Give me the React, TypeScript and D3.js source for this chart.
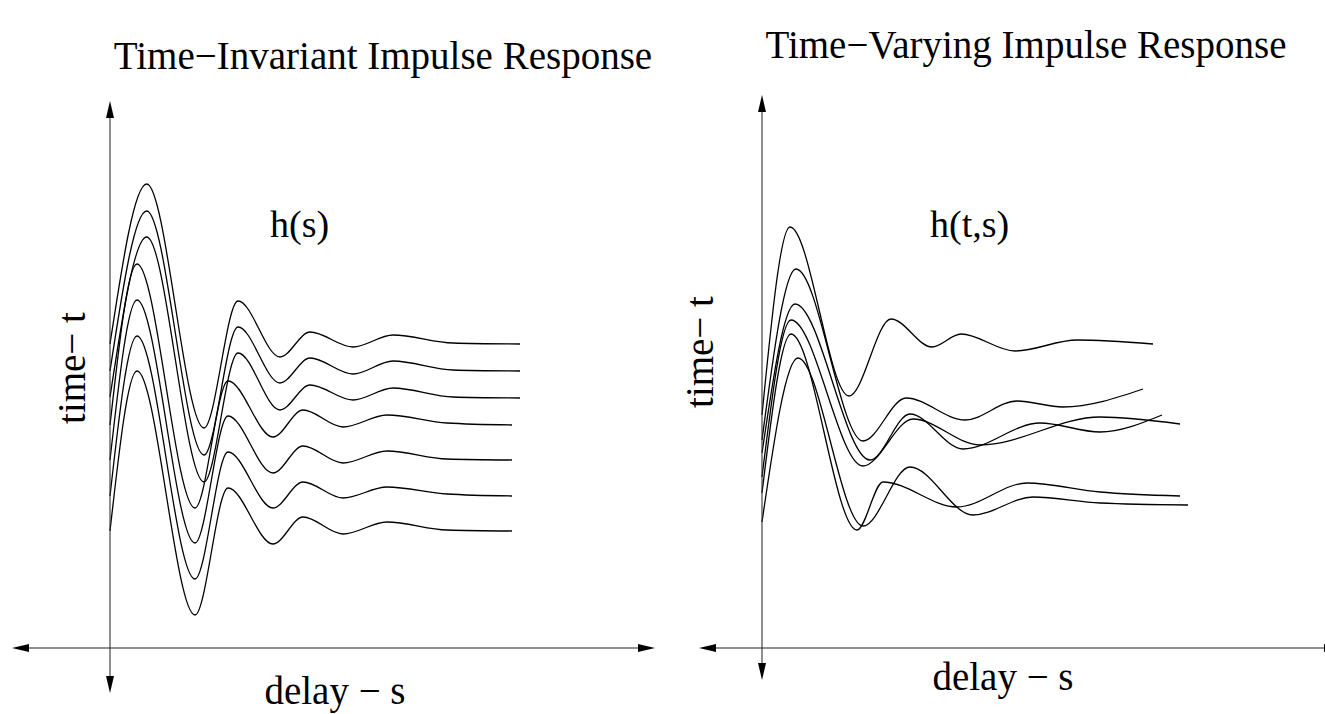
import React from "react";
import * as d3 from "d3";

// ---------- data (delay s in units, time t in units) ----------
// Left panel: time-invariant responses (same shape, shifted in t)
const sInvA = [0, 3.67, 9.4, 12.8, 17, 20, 24.3, 28.3, 34.3, 41];
const hInv1 = [30.4, 46.4, 22, 34.7, 29.1, 31.6, 30.1, 31.3, 30.5, 30.4];
const hInv2 = [27.7, 43.7, 19.3, 32.1, 26.5, 29, 27.4, 28.7, 27.8, 27.7];
const hInv3 = [25.1, 41.1, 16.6, 29.5, 23.8, 26.3, 24.8, 26, 25.1, 25];
const sInvB = [0, 2.7, 8.5, 11.8, 16.3, 19.3, 23.3, 27.7, 33.7, 40.2];
const hInv4 = [22.3, 38.4, 14, 26.7, 21.1, 23.8, 22.1, 23.3, 22.5, 22.3];
const hInv5 = [18.8, 34.8, 10.5, 23.2, 17.5, 20.2, 18.5, 19.7, 18.9, 18.8];
const hInv6 = [15.2, 31.2, 6.9, 19.6, 14, 16.6, 15, 16.1, 15.4, 15.2];
const hInv7 = [11.7, 27.7, 3.3, 16, 10.4, 13.1, 11.4, 12.6, 11.8, 11.7];

// Right panel: time-varying responses
const sVarA = [0, 2.8, 8.7, 12.9, 17, 19.9, 25.3, 31.5, 39.1];
const hVarA = [23.3, 42.1, 25.2, 32.9, 30.1, 31.4, 29.7, 30.8, 30.4];
const sVarB = [0, 3.4, 10.1, 14.4, 20.3, 25.5, 30.1, 38.1];
const hVarB = [20.8, 37.9, 20.7, 25, 22.8, 24.7, 24.1, 25.9];
const sVarC = [0, 3.3, 10.8, 14.8, 20.1, 27.8, 33.8, 40];
const hVarC = [19.5, 34.4, 18.8, 23.4, 19.9, 22.5, 21.6, 23.3];
const sVarD = [0, 2.9, 10.1, 15.1, 21.8, 33.8, 41.8];
const hVarD = [17.1, 32.8, 18.2, 22.9, 20.3, 23.1, 22.4];
const sVarE = [0, 2.9, 9.5, 12.1, 19.5, 26.5, 33.8, 41.8];
const hVarE = [15.5, 31.4, 11.8, 16.6, 14.1, 16.5, 15.6, 15.2];
const sVarF = [0, 3.6, 10.1, 14.8, 21.1, 27.1, 33.8, 42.6];
const hVarF = [12.6, 29, 12.2, 18.1, 13.3, 15.1, 14.5, 14.3];

const titleLeft = "Time\u2212Invariant Impulse Response";
const titleRight = "Time\u2212Varying Impulse Response";
const labelLeft = "h(s)";
const labelRight = "h(t,s)";
const yLabel = "time\u2212 t";
const xLabel = "delay \u2212 s";

const W = 1325;
const H = 714;
const FONT = '"Liberation Serif", "DejaVu Serif", serif';

type Series = { s: number[]; h: number[] };
const leftSeries: Series[] = [
  { s: sInvA, h: hInv1 },
  { s: sInvA, h: hInv2 },
  { s: sInvA, h: hInv3 },
  { s: sInvB, h: hInv4 },
  { s: sInvB, h: hInv5 },
  { s: sInvB, h: hInv6 },
  { s: sInvB, h: hInv7 },
];
const rightSeries: Series[] = [
  { s: sVarA, h: hVarA },
  { s: sVarB, h: hVarB },
  { s: sVarC, h: hVarC },
  { s: sVarD, h: hVarD },
  { s: sVarE, h: hVarE },
  { s: sVarF, h: hVarF },
];

function Arrow({ tip, dir }: { tip: [number, number]; dir: "up" | "down" | "left" | "right" }) {
  const [x, y] = tip;
  const L = 17;
  const w = 4;
  let pts: [number, number][] = [];
  if (dir === "up") pts = [[x, y], [x - w, y + L], [x + w, y + L]];
  if (dir === "down") pts = [[x, y], [x - w, y - L], [x + w, y - L]];
  if (dir === "left") pts = [[x, y], [x + L, y - w], [x + L, y + w]];
  if (dir === "right") pts = [[x, y], [x - L, y - w], [x - L, y + w]];
  return <polygon points={pts.map((p) => p.join(",")).join(" ")} fill="#000" />;
}

function Panel({
  series,
  ox,
  top,
  bottom,
  hy,
  left,
  right,
  rightArrowTip,
}: {
  series: Series[];
  ox: number;
  top: number;
  bottom: number;
  hy: number;
  left: number;
  right: number;
  rightArrowTip: number;
}) {
  const x = d3.scaleLinear().domain([0, 10]).range([ox, ox + 100]);
  const y = d3.scaleLinear().domain([0, 10]).range([hy, hy - 100]);
  const line = d3
    .line<[number, number]>()
    .x((d) => x(d[0]))
    .y((d) => y(d[1]))
    .curve(d3.curveMonotoneX);
  return (
    <g>
      {series.map((sr, i) => (
        <path
          key={i}
          d={line(sr.s.map((s, j) => [s, sr.h[j]] as [number, number])) || ""}
          fill="none"
          stroke="#000"
          strokeWidth={1.3}
        />
      ))}
      <line x1={ox} x2={ox} y1={top + 10} y2={bottom - 10} stroke="#333" strokeWidth={1.1} />
      <line x1={left + 10} x2={right} y1={hy} y2={hy} stroke="#222" strokeWidth={1.1} />
      <Arrow tip={[ox, top]} dir="up" />
      <Arrow tip={[ox, bottom]} dir="down" />
      <Arrow tip={[left, hy]} dir="left" />
      <Arrow tip={[rightArrowTip, hy]} dir="right" />
    </g>
  );
}

const textStyle: React.CSSProperties = { fontFamily: FONT };

export default function App() {
  return (
    <svg
      width={W}
      height={H}
      style={{ position: "absolute", left: 0, top: 0, background: "#fff", fontFamily: FONT }}
    >
      <rect width={W} height={H} fill="#fff" />
      <Panel series={leftSeries} ox={110} top={101} bottom={693} hy={648} left={12} right={645} rightArrowTip={655} />
      <Panel series={rightSeries} ox={762} top={95} bottom={680} hy={648} left={699} right={1325} rightArrowTip={1341} />

      <text style={textStyle} x={383} y={69} textAnchor="middle" fontSize={39}>{titleLeft}</text>
      <text style={textStyle} x={1026} y={58} textAnchor="middle" fontSize={39}>{titleRight}</text>

      <text style={textStyle} x={270} y={237} fontSize={38}>{labelLeft}</text>
      <text style={textStyle} x={930} y={237} fontSize={38}>{labelRight}</text>

      <text style={textStyle} transform="translate(85,368) rotate(-90)" textAnchor="middle" fontSize={39}>{yLabel}</text>
      <text style={textStyle} transform="translate(713,352) rotate(-90)" textAnchor="middle" fontSize={39}>{yLabel}</text>

      <text style={textStyle} x={335} y={704} textAnchor="middle" fontSize={39}>{xLabel}</text>
      <text style={textStyle} x={1003} y={690} textAnchor="middle" fontSize={39}>{xLabel}</text>
    </svg>
  );
}
